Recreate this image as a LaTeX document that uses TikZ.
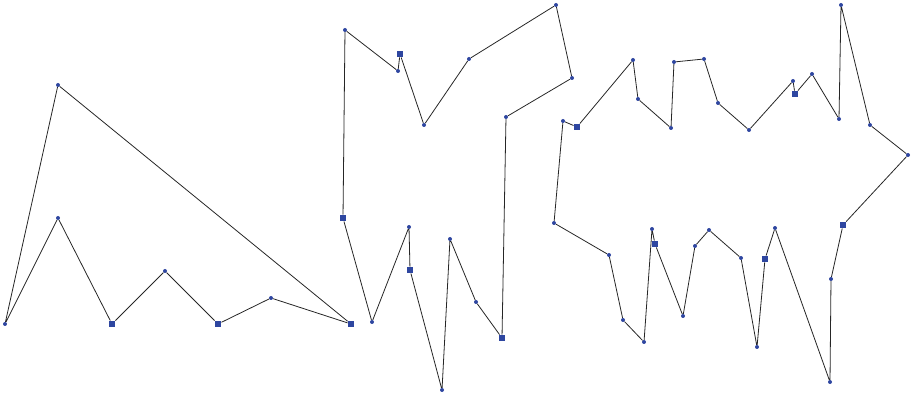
\documentclass[tikz,border=0pt]{standalone}
\definecolor{markblue}{RGB}{46,70,160}
\tikzset{
	dot/.style={circle, fill=markblue, inner sep=0pt, minimum size=4pt},
	sq/.style={rectangle, fill=markblue, inner sep=0pt, minimum size=6.5pt},
	edge/.style={line width=0.8pt, black!85}
}
\begin{document}
\begin{tikzpicture}[x=1pt, y=-1pt]
		\useasboundingbox (0,0) rectangle (916,395);
		% left polygon
		\node [dot] (a1) at (5,324) {};
		\node [dot] (a2) at (58,218) {};
		\node [sq] (a3) at (112,324) {};
		\node [dot] (a4) at (165,271) {};
		\node [sq] (a5) at (218,324) {};
		\node [dot] (a6) at (271,298) {};
		\node [sq] (a7) at (351,324) {};
		\node [dot] (a8) at (58,85) {};
		\draw [edge] (a1) -- (a2) -- (a3) -- (a4) -- (a5) -- (a6) -- (a7) -- (a8) -- (a1);
		% middle polygon
		\node [dot] (b1) at (345,30) {};
		\node [dot] (b2) at (398,71) {};
		\node [sq] (b3) at (400,54) {};
		\node [dot] (b4) at (424,125) {};
		\node [dot] (b5) at (469,59) {};
		\node [dot] (b6) at (556,5) {};
		\node [dot] (b7) at (572,78) {};
		\node [dot] (b8) at (506,117) {};
		\node [sq] (b9) at (502,338) {};
		\node [dot] (b10) at (476,302) {};
		\node [dot] (b11) at (450,239) {};
		\node [dot] (b12) at (442,390) {};
		\node [sq] (b13) at (410,270) {};
		\node [dot] (b14) at (409,227) {};
		\node [dot] (b15) at (372,322) {};
		\node [sq] (b16) at (343,218) {};
		\draw [edge] (b1) -- (b2) -- (b3) -- (b4) -- (b5) -- (b6) -- (b7) -- (b8) -- (b9) -- (b10) -- (b11) -- (b12) -- (b13) -- (b14) -- (b15) -- (b16) -- (b1);
		% right polygon
		\node [dot] (c1) at (563,121) {};
		\node [sq] (c2) at (577,127) {};
		\node [dot] (c3) at (633,60) {};
		\node [dot] (c4) at (638,99) {};
		\node [dot] (c5) at (671,128) {};
		\node [dot] (c6) at (674,62) {};
		\node [dot] (c7) at (704,59) {};
		\node [dot] (c8) at (718,103) {};
		\node [dot] (c9) at (749,130) {};
		\node [dot] (c10) at (793,81) {};
		\node [sq] (c11) at (795,94) {};
		\node [dot] (c12) at (812,74) {};
		\node [dot] (c13) at (839,119) {};
		\node [dot] (c14) at (841,5) {};
		\node [dot] (c15) at (870,125) {};
		\node [dot] (c16) at (908,155) {};
		\node [sq] (c17) at (843,225) {};
		\node [dot] (c18) at (831,279) {};
		\node [dot] (c19) at (830,382) {};
		\node [dot] (c20) at (775,228) {};
		\node [sq] (c21) at (765,259) {};
		\node [dot] (c22) at (757,347) {};
		\node [dot] (c23) at (741,258) {};
		\node [dot] (c24) at (709,230) {};
		\node [dot] (c25) at (695,246) {};
		\node [dot] (c26) at (683,316) {};
		\node [sq] (c27) at (655,244) {};
		\node [dot] (c28) at (652,229) {};
		\node [dot] (c29) at (644,342) {};
		\node [dot] (c30) at (623,320) {};
		\node [dot] (c31) at (609,255) {};
		\node [dot] (c32) at (554,223) {};
		\draw [edge] (c1) -- (c2) -- (c3) -- (c4) -- (c5) -- (c6) -- (c7) -- (c8) -- (c9) -- (c10) -- (c11) -- (c12) -- (c13) -- (c14) -- (c15) -- (c16)
			-- (c17) -- (c18) -- (c19) -- (c20) -- (c21) -- (c22) -- (c23) -- (c24) -- (c25) -- (c26) -- (c27) -- (c28) -- (c29) -- (c30) -- (c31) -- (c32) -- (c1);
\end{tikzpicture}
\end{document}
